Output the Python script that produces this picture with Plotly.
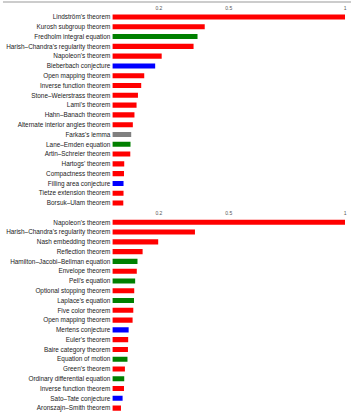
import plotly.graph_objects as go

top_labels = ["Lindström's theorem", "Kurosh subgroup theorem", "Fredholm integral equation",
              "Harish–Chandra's regularity theorem", "Napoleon's theorem", "Bieberbach conjecture",
              "Open mapping theorem", "Inverse function theorem", "Stone–Weierstrass theorem",
              "Lami's theorem", "Hahn–Banach theorem", "Alternate interior angles theorem",
              "Farkas's lemma", "Lane–Emden equation", "Artin–Schreier theorem", "Hartogs' theorem",
              "Compactness theorem", "Filling area conjecture", "Tietze extension theorem",
              "Borsuk–Ulam theorem"]
top_values = [1.0, 0.397, 0.366, 0.349, 0.212, 0.184, 0.137, 0.124, 0.110, 0.104,
              0.095, 0.088, 0.081, 0.078, 0.077, 0.051, 0.050, 0.048, 0.048, 0.047]
top_kinds = ["theorem", "theorem", "equation", "theorem", "theorem", "conjecture",
             "theorem", "theorem", "theorem", "theorem", "theorem", "theorem",
             "lemma", "equation", "theorem", "theorem", "theorem", "conjecture",
             "theorem", "theorem"]

bot_labels = ["Napoleon's theorem", "Harish–Chandra's regularity theorem", "Nash embedding theorem",
              "Reflection theorem", "Hamilton–Jacobi–Bellman equation", "Envelope theorem",
              "Pell's equation", "Optional stopping theorem", "Laplace's equation",
              "Five color theorem", "Open mapping theorem", "Mertens conjecture", "Euler's theorem",
              "Baire category theorem", "Equation of motion", "Green's theorem",
              "Ordinary differential equation", "Inverse function theorem", "Sato–Tate conjecture",
              "Aronszajn–Smith theorem"]
bot_values = [1.0, 0.355, 0.197, 0.130, 0.108, 0.105, 0.098, 0.094, 0.093, 0.090,
              0.087, 0.070, 0.068, 0.067, 0.065, 0.054, 0.051, 0.050, 0.044, 0.037]
bot_kinds = ["theorem", "theorem", "theorem", "theorem", "equation", "theorem",
             "equation", "theorem", "equation", "theorem", "theorem", "conjecture",
             "theorem", "theorem", "equation", "theorem", "equation", "theorem",
             "conjecture", "theorem"]

tick_vals = [0.2, 0.5, 1]
tick_text = ["0.2", "0.5", "1"]

kind_colors = {"theorem": "#ff0000", "equation": "#008000", "conjecture": "#0000ff", "lemma": "#808080"}

fig = go.Figure()
fig.add_trace(go.Bar(y=top_labels, x=top_values, orientation="h", width=0.52,
                     marker=dict(color=[kind_colors[k] for k in top_kinds], line_width=0),
                     xaxis="x", yaxis="y", showlegend=False))
fig.add_trace(go.Bar(y=bot_labels, x=bot_values, orientation="h", width=0.52,
                     marker=dict(color=[kind_colors[k] for k in bot_kinds], line_width=0),
                     xaxis="x2", yaxis="y2", showlegend=False))

H = 413.0
xdom = [113 / 353, 347 / 353]
xcommon = dict(range=[0, 1], domain=xdom, side="top", tickvals=tick_vals, ticktext=tick_text,
               showgrid=False, zeroline=False, showline=False, ticks="",
               ticklabelstandoff=0,
               tickfont=dict(size=5, color="#555555", family="Liberation Sans"))
ycommon = dict(autorange="reversed", showgrid=False, zeroline=False, showline=False, ticks="",
               ticklabelstandoff=1,
               tickfont=dict(size=6.4, color="#1a1a1a", family="Liberation Sans"))

fig.update_layout(
    width=353, height=413, margin=dict(l=0, r=0, t=0, b=0),
    paper_bgcolor="white", plot_bgcolor="white", bargap=0.45,
    xaxis=dict(anchor="y", **xcommon),
    yaxis=dict(domain=[1 - 207.9 / H, 1 - 12.1 / H], anchor="x", **ycommon),
    xaxis2=dict(anchor="y2", **xcommon),
    yaxis2=dict(domain=[0.0, 1 - 217.4 / H], anchor="x2", **ycommon),
    shapes=[dict(type="line", xref="paper", yref="paper", x0=3 / 353, x1=1, y0=1 - 2 / H, y1=1 - 2 / H,
                 line=dict(color="#999999", width=1))],
)

fig.write_html("out.html")
